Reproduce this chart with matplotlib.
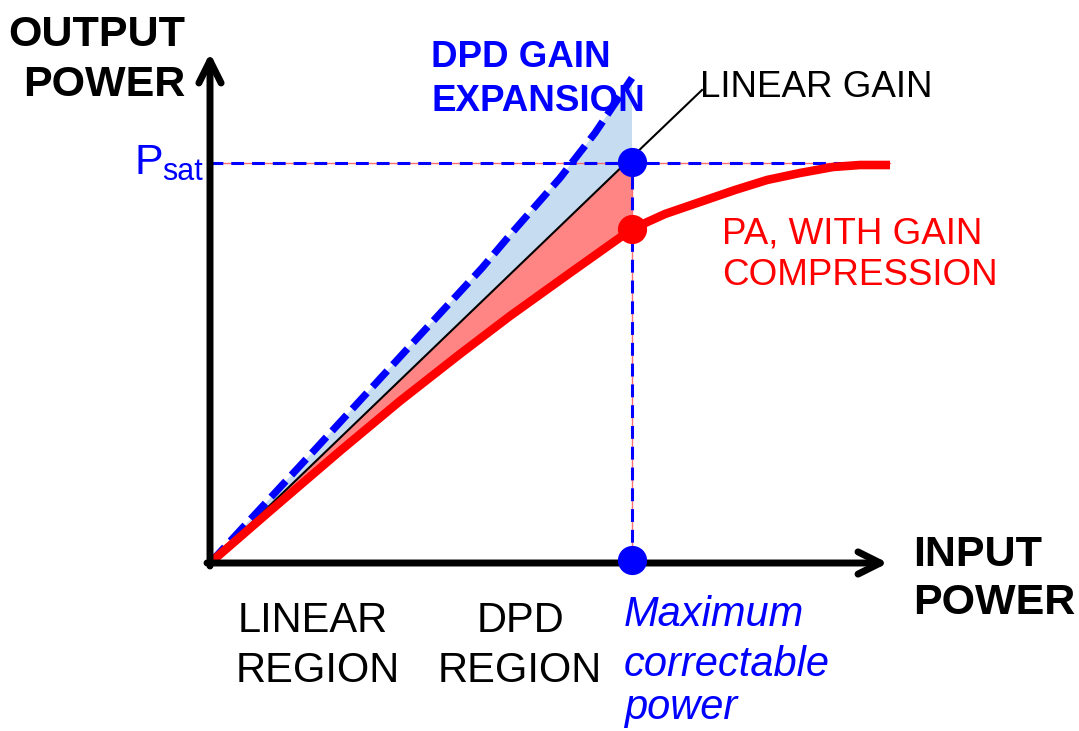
import numpy as np
import matplotlib
matplotlib.use("Agg")
import matplotlib.pyplot as plt

plt.rcParams['font.family'] = ['Liberation Sans', 'DejaVu Sans']

# ---- data (input power vs output power, arbitrary units) ----
linear_x = [0, 422, 492]
linear_y = [0, 406, 473]

dpd_x = [0, 100, 200, 272, 300, 350, 385, 422]
dpd_y = [0, 108, 217, 295, 328, 385, 430, 485]

pa_x = [0, 60, 130, 190, 250, 300, 360, 422, 455, 490, 525, 557, 590, 623, 650, 680]
pa_y = [0, 52, 112, 162, 209, 247, 290, 334, 349, 361, 373, 383, 390, 396, 398, 398]

psat = 400
max_correctable = 422
pa_at_max = 334
psat_line_end = 680
x_axis_end = 678
y_axis_end = 510

BLUE = '#0000ff'
RED = '#ff0000'
LIGHT_BLUE = '#c6dcf0'
LIGHT_RED = '#ff8585'
THIN_RED = '#ff6f6f'

fig = plt.figure(figsize=(10.79, 7.31), dpi=100)
ax = fig.add_axes([0, 0, 1, 1])
ax.set_xlim(-210, 869)
ax.set_ylim(-168, 563)
ax.axis('off')

# fills
lin_to_max_x = [x for x in linear_x if x <= max_correctable]
lin_to_max_y = [y for x, y in zip(linear_x, linear_y) if x <= max_correctable]
blue_poly_x = list(dpd_x) + lin_to_max_x[::-1]
blue_poly_y = list(dpd_y) + lin_to_max_y[::-1]
ax.fill(blue_poly_x, blue_poly_y, color=LIGHT_BLUE, lw=0, zorder=1)

pa_to_max_x = [x for x in pa_x if x <= max_correctable]
pa_to_max_y = [y for x, y in zip(pa_x, pa_y) if x <= max_correctable]
red_poly_x = lin_to_max_x + pa_to_max_x[::-1]
red_poly_y = lin_to_max_y + pa_to_max_y[::-1]
ax.fill(red_poly_x, red_poly_y, color=LIGHT_RED, lw=0, zorder=1)

# Psat and max-correctable guide lines (thin red under blue dashes)
ax.plot([0, psat_line_end], [psat, psat], color=THIN_RED, lw=1.0, zorder=2)
ax.plot([0, psat_line_end], [psat, psat], color=BLUE, lw=2.2,
        dashes=(4.2, 2.6), zorder=2.1)
ax.plot([max_correctable, max_correctable], [0, psat], color=THIN_RED, lw=1.0, zorder=2)
ax.plot([max_correctable, max_correctable], [0, psat], color=BLUE, lw=2.2,
        dashes=(4.2, 2.6), zorder=2.1)

# curves
ax.plot(linear_x, linear_y, color='black', lw=1.5, zorder=3)
ax.plot(dpd_x, dpd_y, color=BLUE, lw=5.2, dashes=(3.0, 1.15),
        solid_capstyle='butt', dash_capstyle='butt', dash_joinstyle='round',
        zorder=4)
ax.plot(pa_x, pa_y, color=RED, lw=6.2, solid_capstyle='butt',
        solid_joinstyle='round', zorder=4)

# axes with arrows
arrow_style = '->,head_length=1.6,head_width=0.8'
ax.annotate('', xy=(0, y_axis_end), xytext=(0, -3),
            arrowprops=dict(arrowstyle=arrow_style, lw=5, color='black',
                            shrinkA=0, shrinkB=0, joinstyle='round',
                            capstyle='round'), zorder=5)
ax.annotate('', xy=(x_axis_end, 0), xytext=(-3, 0),
            arrowprops=dict(arrowstyle=arrow_style, lw=5, color='black',
                            shrinkA=0, shrinkB=0, joinstyle='round',
                            capstyle='round'), zorder=5)

# markers
ax.plot([max_correctable], [psat + 1], 'o', color=BLUE, ms=20, zorder=6)
ax.plot([max_correctable], [pa_at_max], 'o', color=RED, ms=20, zorder=6)
ax.plot([max_correctable], [3], 'o', color=BLUE, ms=20, zorder=6)

# text (positions in pixel-offset units from origin)
def T(px, py, s, **kw):
    ax.text(px - 210, 563 - py, s, va='baseline', **kw)

T(185, 46, 'OUTPUT', ha='right', fontsize=31, fontweight='bold', color='black')
T(185, 96, 'POWER', ha='right', fontsize=31, fontweight='bold', color='black')

T(134, 174, 'P', ha='left', fontsize=31, color=BLUE)
T(162, 180, 'sat', ha='left', fontsize=22, color=BLUE)

T(431, 67, 'DPD GAIN', ha='left', fontsize=26.5, fontweight='bold', color=BLUE)
T(431, 111, 'EXPANSION', ha='left', fontsize=26.5, fontweight='bold', color=BLUE)

T(700, 97, 'LINEAR GAIN', ha='left', fontsize=26.5, color='black')

T(722, 244, 'PA, WITH GAIN', ha='left', fontsize=26.5, color=RED)
T(722, 285, 'COMPRESSION', ha='left', fontsize=26.5, color=RED)

T(913, 566, 'INPUT', ha='left', fontsize=31, fontweight='bold', color='black')
T(913, 614, 'POWER', ha='left', fontsize=31, fontweight='bold', color='black')

T(313, 632, 'LINEAR', ha='center', fontsize=30, color='black')
T(318, 682, 'REGION', ha='center', fontsize=30, color='black')
T(520, 632, 'DPD', ha='center', fontsize=30, color='black')
T(520, 682, 'REGION', ha='center', fontsize=30, color='black')

T(624, 626, 'Maximum', ha='left', fontsize=30, style='italic', color=BLUE)
T(624, 676, 'correctable', ha='left', fontsize=30, style='italic', color=BLUE)
T(624, 719, 'power', ha='left', fontsize=30, style='italic', color=BLUE)

fig.savefig('out.png', dpi=100)
